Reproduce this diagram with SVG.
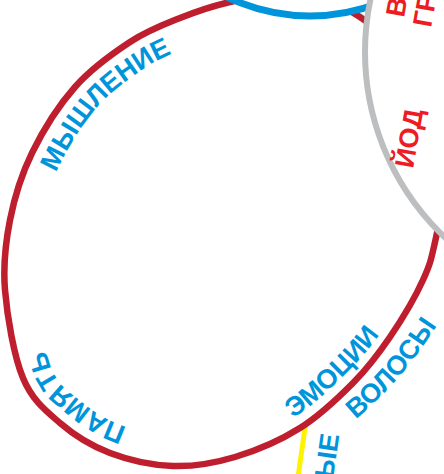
<svg xmlns="http://www.w3.org/2000/svg" width="444" height="474" viewBox="0 0 444 474">
  <defs>
    <style>
      .lbl { font-family: "Liberation Sans", Arial, sans-serif; font-weight: bold; font-size: 27px; }
      .blue { fill: #0095da; }
      .red { fill: #ed1c24; }
      .guide { fill: none; stroke: none; }
    </style>
    <!-- baselines for the curved labels -->
    <path id="base-thinking" class="guide" d="M39.4,225.8 C45.9,205.9 49.3,186 59,166.2 C68.7,146.4 82.9,123.3 97.5,106.8 C112.1,90.3 130.9,77.2 146.5,67 C162.1,56.8 176.2,51.8 191.2,45.8 C206.2,39.8 221.5,36.1 236.6,31.3"/>
    <path id="base-memory" class="guide" d="M174,436 C156.2,432.3 136.4,431 120.7,425 C105,419 91.3,410.1 79.6,400.3 C67.9,390.5 58.2,385.3 50.7,366.5 C43.2,347.7 40.2,313.8 34.9,287.5"/>
    <path id="base-emotions" class="guide" d="M231.6,445.5 C252.3,436.3 274.8,429.6 293.6,417.8 C312.4,406 329.8,389 344.5,374.6 C359.2,360.2 370.1,347.9 381.7,331.4 C393.3,315 403.2,294.4 413.9,275.9"/>
    <path id="base-hair" class="guide" d="M315.4,452.6 C334.8,436.2 356.75,419.67 373.6,403.4 C390.45,387.13 402.95,373.17 416.5,355 C430.05,336.83 445.62,313.45 454.9,294.4 C464.18,275.35 466.43,258.6 472.2,240.7"/>
  </defs>

  <rect x="0" y="0" width="444" height="474" fill="#ffffff"/>

  <!-- yellow outline, lower edge -->
  <g id="yellow-shape">
    <path d="M306.1,420 L297.9,478" fill="none" stroke="#fff200" stroke-width="5"/>
  </g>

  <!-- large red oval -->
  <g id="red-oval">
    <path d="M273,-3 C294.67,-0.5 329.17,-3.5 360,17 C390.83,37.5 445.17,84 458,120 C470.83,156 442.83,206.33 437,233 C431.17,259.67 430.83,262.67 423,280 C415.17,297.33 401.67,319.83 390,337 C378.33,354.17 368,367.83 353,383 C338,398.17 319.67,415.67 300,428 C280.33,440.33 256.17,450.67 235,457 C213.83,463.33 193.83,466.67 173,466 C152.17,465.33 128.83,460.17 110,453 C91.17,445.83 74.5,435.5 60,423 C45.5,410.5 32.17,400.17 23,378 C13.83,355.830 7.17,316.33 5,290 C2.83,263.67 5.5,242.83 10,220 C14.5,197.17 21.17,175.17 32,153 C42.83,130.83 58.67,105.5 75,87 C91.33,68.5 112.5,53.5 130,42 C147.5,30.5 163.33,24.67 180,18 C196.67,11.33 214.5,5.5 230,2 C245.5,-1.5 251.33,-5.5 273,-3 Z" fill="#ffffff" stroke="#be1e2d" stroke-width="6.5"/>
    <text class="lbl blue"><textPath href="#base-thinking" startOffset="56">МЫШЛЕНИЕ</textPath></text>
    <text class="lbl blue"><textPath href="#base-memory" startOffset="48">ПАМЯТЬ</textPath></text>
    <text class="lbl blue"><textPath href="#base-emotions" startOffset="67">ЭМОЦИИ</textPath></text>
  </g>

  <!-- blue circle, top -->
  <g id="blue-circle">
    <circle cx="310" cy="-175" r="191" fill="#ffffff" stroke="#0095da" stroke-width="7"/>
  </g>

  <!-- grey circle, right -->
  <g id="grey-circle">
    <circle cx="620" cy="52" r="255" fill="#ffffff" stroke="#bcbec0" stroke-width="6"/>
    <text class="lbl red" transform="translate(404,18) rotate(-80)">В</text>
    <text class="lbl red" transform="translate(431,28) rotate(-80)">ГР</text>
    <text class="lbl red" transform="translate(413,169) rotate(-80)">ЙОД</text>
  </g>

  <!-- labels outside the red oval -->
  <g id="outer-labels">
    <text class="lbl blue"><textPath href="#base-hair" startOffset="52">ВОЛОСЫ</textPath></text>
    <text class="lbl blue" transform="translate(333,479) rotate(-82)">ЫЕ</text>
  </g>
</svg>
